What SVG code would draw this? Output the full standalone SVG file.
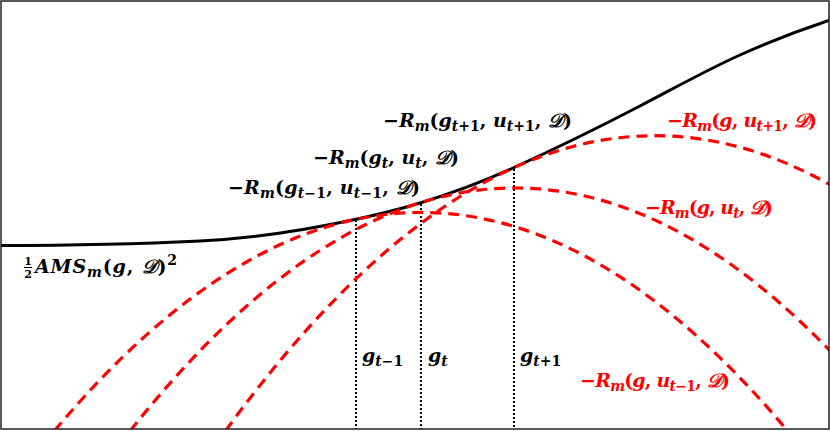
<svg xmlns="http://www.w3.org/2000/svg" width="830" height="431" viewBox="0 0 830 431">
<style>
.lbl{font-family:"DejaVu Serif","Liberation Serif",serif;font-style:italic;font-weight:bold;font-size:19px;fill:#000}
.red{fill:#ff0000}
.sub{font-size:14px}
.n{font-style:normal}
.frac{font-family:"DejaVu Serif","Liberation Serif",serif;font-weight:bold;font-size:11px;fill:#000}
.par{fill:none;stroke:#ff0000;stroke-width:3.2;stroke-dasharray:11 7}
.guide{fill:none;stroke:#000;stroke-width:2;stroke-dasharray:2 2}
</style>
<defs>
<clipPath id="plotclip"><rect x="1" y="1" width="828" height="428"/></clipPath>
</defs>
<rect x="0" y="0" width="830" height="431" fill="#fff"/>
<g id="guides">
<line class="guide" x1="356" y1="220" x2="356" y2="429"/>
<line class="guide" x1="421" y1="204" x2="421" y2="429"/>
<line class="guide" x1="514" y1="169" x2="514" y2="429"/>
</g>
<g id="objective" clip-path="url(#plotclip)">
<path d="M0,245.5 C66.67,245.5 133.33,244.33 200,241 C251.67,238.42 303.33,230.61 355,219.5 C376.67,214.84 398.33,209.72 420,203 C451,193.39 482,182.07 513,168 C555.33,148.78 597.67,128.01 640,106 C673.33,88.67 706.67,70 740,55 C770,41.5 800,29.9 830,20" fill="none" stroke="#000" stroke-width="3"/>
</g>
<g id="surrogates" clip-path="url(#plotclip)">
<path class="par" d="M54.3,431 Q421,-6.2 787.7,431"/>
<path class="par" d="M130.1,431 Q515,-55 899.9,431"/>
<path class="par" d="M225.4,431 Q655,-159.6 1084.6,431"/>
</g>
<g id="labels">
<text class="lbl" x="383" y="127" textLength="189" lengthAdjust="spacing"><tspan class="n">−</tspan>R<tspan class="sub" dy="4">m</tspan><tspan class="n" dy="-4">(</tspan>g<tspan class="sub" dy="4">t<tspan class="n">+1</tspan></tspan><tspan class="n" dy="-4">, </tspan>u<tspan class="sub" dy="4">t<tspan class="n">+1</tspan></tspan><tspan class="n" dy="-4">, </tspan>𝒟<tspan class="n">)</tspan></text>
<text class="lbl" x="313" y="164" textLength="146" lengthAdjust="spacing"><tspan class="n">−</tspan>R<tspan class="sub" dy="4">m</tspan><tspan class="n" dy="-4">(</tspan>g<tspan class="sub" dy="4">t</tspan><tspan class="n" dy="-4">, </tspan>u<tspan class="sub" dy="4">t</tspan><tspan class="n" dy="-4">, </tspan>𝒟<tspan class="n">)</tspan></text>
<text class="lbl" x="228" y="194" textLength="192" lengthAdjust="spacing"><tspan class="n">−</tspan>R<tspan class="sub" dy="4">m</tspan><tspan class="n" dy="-4">(</tspan>g<tspan class="sub" dy="4">t<tspan class="n">−1</tspan></tspan><tspan class="n" dy="-4">, </tspan>u<tspan class="sub" dy="4">t<tspan class="n">−1</tspan></tspan><tspan class="n" dy="-4">, </tspan>𝒟<tspan class="n">)</tspan></text>
<g id="ams">
<text class="frac" x="28" y="265" text-anchor="middle">1</text>
<line x1="24" y1="267.5" x2="32" y2="267.5" stroke="#000" stroke-width="1"/>
<text class="frac" x="28" y="278" text-anchor="middle">2</text>
<text class="lbl" x="35" y="273" textLength="142" lengthAdjust="spacing">AMS<tspan class="sub" dy="4">m</tspan><tspan class="n" dy="-4">(</tspan>g<tspan class="n">, </tspan>𝒟<tspan class="n">)</tspan><tspan class="sub n" dy="-8">2</tspan></text>
</g>
<text class="lbl" x="362" y="362">g<tspan class="sub" dy="4">t<tspan class="n">−1</tspan></tspan></text>
<text class="lbl" x="428" y="362">g<tspan class="sub" dy="4">t</tspan></text>
<text class="lbl" x="520" y="362">g<tspan class="sub" dy="4">t<tspan class="n">+1</tspan></tspan></text>
<text class="lbl red" x="667" y="127" textLength="150" lengthAdjust="spacing"><tspan class="n">−</tspan>R<tspan class="sub" dy="4">m</tspan><tspan class="n" dy="-4">(</tspan>g<tspan class="n">, </tspan>u<tspan class="sub" dy="4">t<tspan class="n">+1</tspan></tspan><tspan class="n" dy="-4">, </tspan>𝒟<tspan class="n">)</tspan></text>
<text class="lbl red" x="645" y="214" textLength="128" lengthAdjust="spacing"><tspan class="n">−</tspan>R<tspan class="sub" dy="4">m</tspan><tspan class="n" dy="-4">(</tspan>g<tspan class="n">, </tspan>u<tspan class="sub" dy="4">t</tspan><tspan class="n" dy="-4">, </tspan>𝒟<tspan class="n">)</tspan></text>
<text class="lbl red" x="580" y="387" textLength="150" lengthAdjust="spacing"><tspan class="n">−</tspan>R<tspan class="sub" dy="4">m</tspan><tspan class="n" dy="-4">(</tspan>g<tspan class="n">, </tspan>u<tspan class="sub" dy="4">t<tspan class="n">−1</tspan></tspan><tspan class="n" dy="-4">, </tspan>𝒟<tspan class="n">)</tspan></text>
</g>
<rect x="1" y="1" width="828" height="428" fill="none" stroke="#222" stroke-width="1.5"/>
</svg>
